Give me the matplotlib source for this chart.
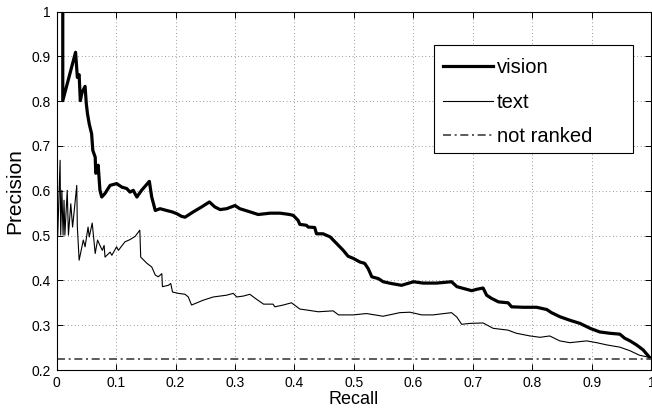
import matplotlib
matplotlib.use("Agg")
import matplotlib.pyplot as plt
from matplotlib.patches import Rectangle

plt.rcParams['font.family'] = ['Liberation Sans', 'DejaVu Sans']

vision_recall = [0.0105, 0.0105, 0.032, 0.035, 0.038, 0.040, 0.043, 0.048, 0.050, 0.052, 0.055,
                 0.059, 0.061, 0.065, 0.066, 0.070, 0.073, 0.076, 0.0815, 0.090, 0.101, 0.110,
                 0.118, 0.1235, 0.129, 0.135, 0.143, 0.156, 0.160, 0.166, 0.174, 0.185, 0.194,
                 0.202, 0.210, 0.216, 0.230, 0.244, 0.257, 0.266, 0.275, 0.286, 0.300, 0.308,
                 0.325, 0.339, 0.359, 0.376, 0.392, 0.398, 0.406, 0.409, 0.420, 0.423, 0.434,
                 0.437, 0.448, 0.460, 0.471, 0.482, 0.490, 0.499, 0.510, 0.518, 0.524, 0.530,
                 0.541, 0.549, 0.563, 0.580, 0.600, 0.616, 0.639, 0.664, 0.673, 0.684, 0.698,
                 0.706, 0.717, 0.723, 0.731, 0.743, 0.759, 0.765, 0.785, 0.807, 0.824, 0.832,
                 0.846, 0.863, 0.880, 0.897, 0.913, 0.930, 0.947, 0.955, 0.964, 0.975, 0.986,
                 0.997]
vision_precision = [1.0, 0.801, 0.909, 0.853, 0.859, 0.801, 0.820, 0.833, 0.795, 0.772, 0.749,
                    0.727, 0.690, 0.675, 0.639, 0.657, 0.601, 0.586, 0.594, 0.612, 0.616, 0.608,
                    0.605, 0.597, 0.601, 0.586, 0.601, 0.621, 0.586, 0.556, 0.560, 0.556, 0.553,
                    0.549, 0.543, 0.541, 0.553, 0.564, 0.575, 0.564, 0.558, 0.560, 0.567, 0.560,
                    0.553, 0.547, 0.550, 0.550, 0.547, 0.545, 0.534, 0.525, 0.523, 0.519, 0.518,
                    0.504, 0.504, 0.497, 0.482, 0.467, 0.454, 0.449, 0.441, 0.438, 0.426, 0.408,
                    0.404, 0.397, 0.393, 0.389, 0.397, 0.394, 0.394, 0.397, 0.386, 0.382, 0.377,
                    0.380, 0.383, 0.367, 0.360, 0.352, 0.350, 0.341, 0.340, 0.340, 0.335, 0.328,
                    0.319, 0.311, 0.304, 0.293, 0.285, 0.282, 0.280, 0.271, 0.265, 0.256, 0.245,
                    0.228]

text_recall = [0.002, 0.006, 0.007, 0.009, 0.011, 0.0126, 0.014, 0.018, 0.020, 0.024, 0.027,
               0.034, 0.035, 0.038, 0.045, 0.048, 0.053, 0.055, 0.060, 0.065, 0.069, 0.073,
               0.077, 0.080, 0.0815, 0.090, 0.093, 0.101, 0.104, 0.115, 0.1235, 0.132, 0.140,
               0.1415, 0.152, 0.160, 0.166, 0.171, 0.177, 0.178, 0.188, 0.192, 0.195, 0.205,
               0.216, 0.2215, 0.227, 0.236, 0.247, 0.2635, 0.286, 0.297, 0.303, 0.314, 0.325,
               0.334, 0.348, 0.364, 0.367, 0.381, 0.395, 0.409, 0.420, 0.440, 0.465, 0.474,
               0.499, 0.521, 0.549, 0.577, 0.594, 0.614, 0.633, 0.664, 0.673, 0.681, 0.695,
               0.717, 0.734, 0.759, 0.773, 0.796, 0.813, 0.829, 0.846, 0.863, 0.891, 0.908,
               0.925, 0.947, 0.964, 0.980, 0.997]
text_precision = [0.500, 0.668, 0.501, 0.601, 0.501, 0.579, 0.501, 0.601, 0.501, 0.571, 0.519,
                  0.612, 0.519, 0.445, 0.490, 0.475, 0.519, 0.497, 0.528, 0.460, 0.490, 0.478,
                  0.467, 0.478, 0.452, 0.463, 0.456, 0.475, 0.467, 0.486, 0.491, 0.498, 0.512,
                  0.452, 0.438, 0.430, 0.412, 0.408, 0.415, 0.386, 0.389, 0.393, 0.374, 0.371,
                  0.369, 0.363, 0.345, 0.350, 0.356, 0.363, 0.367, 0.371, 0.363, 0.365, 0.369,
                  0.360, 0.347, 0.347, 0.341, 0.345, 0.350, 0.336, 0.334, 0.330, 0.332, 0.323,
                  0.323, 0.326, 0.320, 0.328, 0.329, 0.323, 0.323, 0.328, 0.318, 0.302, 0.304,
                  0.305, 0.293, 0.289, 0.282, 0.276, 0.273, 0.276, 0.265, 0.261, 0.265, 0.261,
                  0.256, 0.251, 0.243, 0.233, 0.228]

not_ranked = 0.224

xticks = [0, 0.1, 0.2, 0.3, 0.4, 0.5, 0.6, 0.7, 0.8, 0.9, 1]
xticklabels = ['0', '0.1', '0.2', '0.3', '0.4', '0.5', '0.6', '0.7', '0.8', '0.9', '1']
yticks = [0.2, 0.3, 0.4, 0.5, 0.6, 0.7, 0.8, 0.9, 1]
yticklabels = ['0.2', '0.3', '0.4', '0.5', '0.6', '0.7', '0.8', '0.9', '1']

fig = plt.figure(figsize=(6.52, 4.08), dpi=100)
ax = fig.add_axes([0.0867, 0.0931, 0.9124, 0.8787])

ax.plot(vision_recall, vision_precision, color='black', linewidth=2.3, label='vision')
ax.plot(text_recall, text_precision, color='black', linewidth=0.8, label='text')
ax.plot([0, 1], [not_ranked, not_ranked], color='#404040', linewidth=1.2,
        linestyle=(0, (4.8, 2.2, 1.2, 2.2)), label='not ranked')

ax.set_xlim(0, 1)
ax.set_ylim(0.2, 1)
ax.set_xticks(xticks)
ax.set_xticklabels(xticklabels)
ax.set_yticks(yticks)
ax.set_yticklabels(yticklabels)
ax.tick_params(direction='in', length=4, width=0.7, top=True, right=True,
               labelsize=10, pad=4, colors='black')
ax.grid(True, color='black', linestyle=(0, (1, 4)), linewidth=0.5, alpha=0.75)
for sp in ax.spines.values():
    sp.set_linewidth(0.8)

ax.set_xlabel('Recall', fontsize=13, labelpad=1)
ax.set_ylabel('Precision', fontsize=15, labelpad=5)

# legend frame (wider than its content, as in the reference)
ax.add_patch(Rectangle((0.634, 0.605), 0.335, 0.302, transform=ax.transAxes,
                       facecolor='white', edgecolor='black', linewidth=0.8, zorder=4))
leg = ax.legend(loc='upper left', bbox_to_anchor=(0.650, 0.869), fontsize=14.5,
                frameon=False, handlelength=2.45, handletextpad=0.2, labelspacing=0.75,
                borderpad=0, borderaxespad=0)
leg.set_zorder(5)

fig.savefig('out.png', dpi=100)
